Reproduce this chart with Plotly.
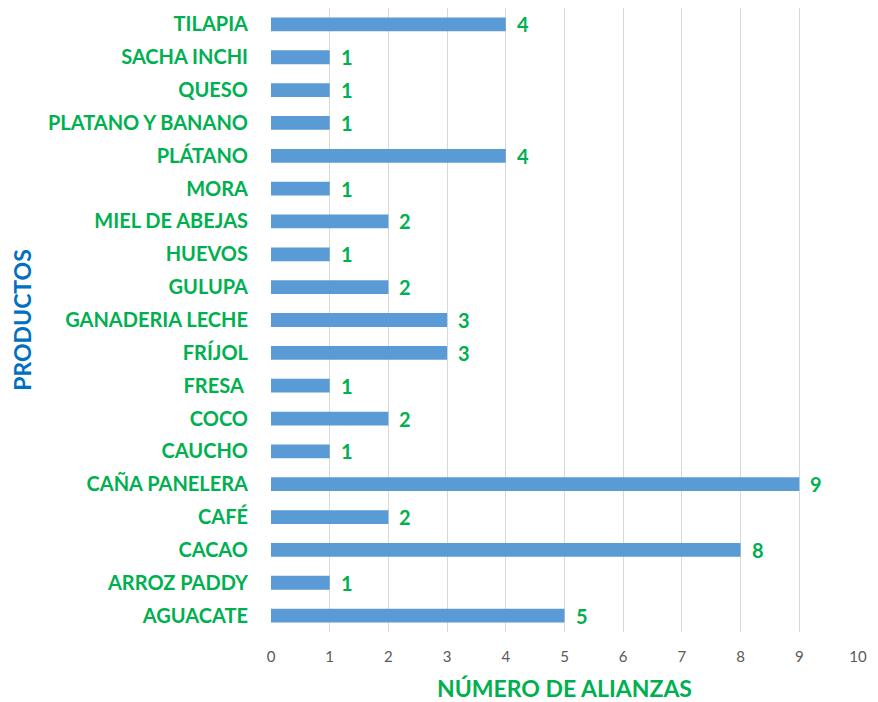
import plotly.graph_objects as go

productos = ["AGUACATE", "ARROZ PADDY", "CACAO", "CAFÉ", "CAÑA PANELERA", "CAUCHO",
             "COCO", "FRESA ", "FRÍJOL", "GANADERIA LECHE", "GULUPA", "HUEVOS",
             "MIEL DE ABEJAS", "MORA", "PLÁTANO", "PLATANO Y BANANO", "QUESO",
             "SACHA INCHI", "TILAPIA"]
alianzas = [5, 1, 8, 2, 9, 1, 2, 1, 3, 3, 2, 1, 2, 1, 4, 1, 1, 1, 4]
x_ticks = list(range(0, 11))

GREEN = "#00B050"
BLUE = "#0070C0"
BAR = "#5B9BD5"
FONT = "Lato, 'Open Sans', sans-serif"

fig = go.Figure(go.Bar(
    x=alianzas, y=productos, orientation="h",
    marker=dict(color=BAR, line=dict(width=0)),
    width=0.42,
))

for p, v in zip(productos, alianzas):
    fig.add_annotation(x=v, y=p, text=f"<b>{v}</b>", showarrow=False,
                       xanchor="left", xshift=9, yshift=0,
                       font=dict(family=FONT, size=20, color=GREEN))

fig.update_layout(
    width=870, height=694,
    margin=dict(l=263, r=20, t=0, b=70),
    plot_bgcolor="white", paper_bgcolor="white",
    showlegend=False,
    font=dict(family=FONT),
)
fig.update_xaxes(
    range=[0, 10], tickvals=x_ticks, ticktext=[str(t) for t in x_ticks],
    showgrid=True, gridcolor="#D9D9D9", gridwidth=1, zeroline=False,
    showline=False, automargin=False,
    tickfont=dict(family=FONT, size=15, color="#595959"),
    ticklabelstandoff=14,
    title=dict(text="<b>NÚMERO DE ALIANZAS</b>", font=dict(family=FONT, size=23, color=GREEN), standoff=18),
)
fig.update_yaxes(
    categoryorder="array", categoryarray=productos,
    showgrid=False, zeroline=False, showline=False, automargin=False,
    tickfont=dict(family=FONT, size=20, color=GREEN),
    ticklabelstandoff=22,
    tickprefix="<b>", ticksuffix="</b>",
    title=dict(text="<b>PRODUCTOS</b>", font=dict(family=FONT, size=23, color=BLUE), standoff=11),
)

fig.write_html("out.html")
